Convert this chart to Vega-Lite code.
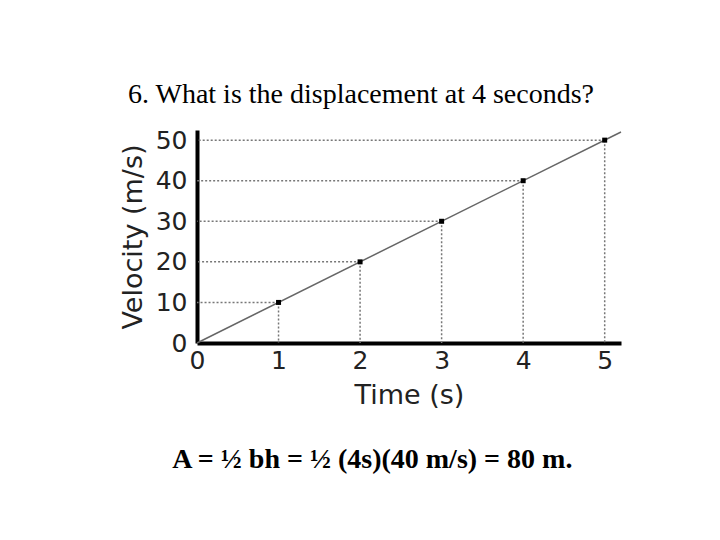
{
  "$schema": "https://vega.github.io/schema/vega-lite/v6.json",
  "padding": {"left": 119, "top": 81, "right": 5, "bottom": 5},
  "background": "white",
  "title": {"text": "A = ½ bh = ½ (4s)(40 m/s) = 80 m.", "orient": "bottom", "font": "Liberation Serif", "fontSize": 28, "fontWeight": "bold", "color": "black", "offset": 38, "anchor": "start", "dx": 53},
  "config": {"view": {"stroke": null}},
  "datasets": {
    "pts": [
      {"t": 1, "v": 10},
      {"t": 2, "v": 20},
      {"t": 3, "v": 30},
      {"t": 4, "v": 40},
      {"t": 5, "v": 50}
    ],
    "line": [
      {"t": 0, "v": 0},
      {"t": 5.2, "v": 52}
    ]
  },
  "vconcat": [
    {
      "title": {"text": "6. What is the displacement at 4 seconds?", "font": "Liberation Serif", "fontSize": 28, "fontWeight": "normal", "color": "black", "offset": 19, "anchor": "middle", "dx": -48},
      "width": 424,
      "height": 213,
      "layer": [
        {
          "data": {"name": "pts"},
          "mark": {"type": "rule", "color": "#777", "strokeDash": [2, 2], "strokeWidth": 1.5},
          "encoding": {
            "x": {"field": "t", "type": "quantitative"},
            "x2": {"datum": 0},
            "y": {"field": "v", "type": "quantitative"}
          }
        },
        {
          "data": {"name": "pts"},
          "mark": {"type": "rule", "color": "#777", "strokeDash": [2, 2], "strokeWidth": 1.5},
          "encoding": {
            "x": {"field": "t", "type": "quantitative"},
            "y": {"field": "v", "type": "quantitative"},
            "y2": {"datum": 0}
          }
        },
        {
          "data": {"name": "line"},
          "mark": {"type": "line", "color": "#666", "strokeWidth": 1.5},
          "encoding": {
            "x": {"field": "t", "type": "quantitative", "scale": {"domain": [0, 5.2], "nice": false}, "axis": {"values": [0, 1, 2, 3, 4, 5], "format": "d", "title": "Time (s)", "ticks": false, "grid": false, "domainWidth": 4, "domainColor": "black", "labelFont": "DejaVu Sans", "labelFontSize": 25, "labelColor": "#222", "labelPadding": 5, "titleFont": "DejaVu Sans", "titleFontSize": 27, "titleFontWeight": "normal", "titleColor": "#222", "titlePadding": 9, "labelFlush": false}},
            "y": {"field": "v", "type": "quantitative", "scale": {"domain": [0, 52.5], "nice": false}, "axis": {"values": [0, 10, 20, 30, 40, 50], "format": "d", "title": "Velocity (m/s)", "ticks": false, "grid": false, "domainWidth": 4, "domainColor": "black", "labelFont": "DejaVu Sans", "labelFontSize": 25, "labelColor": "#222", "labelPadding": 10, "titleFont": "DejaVu Sans", "titleFontSize": 27, "titleFontWeight": "normal", "titleColor": "#222", "titlePadding": 8, "labelFlush": false}}
          }
        },
        {
          "data": {"name": "pts"},
          "mark": {"type": "square", "color": "black", "size": 25, "opacity": 1, "filled": true},
          "encoding": {
            "x": {"field": "t", "type": "quantitative"},
            "y": {"field": "v", "type": "quantitative"}
          }
        }
      ]
    }
  ]
}
